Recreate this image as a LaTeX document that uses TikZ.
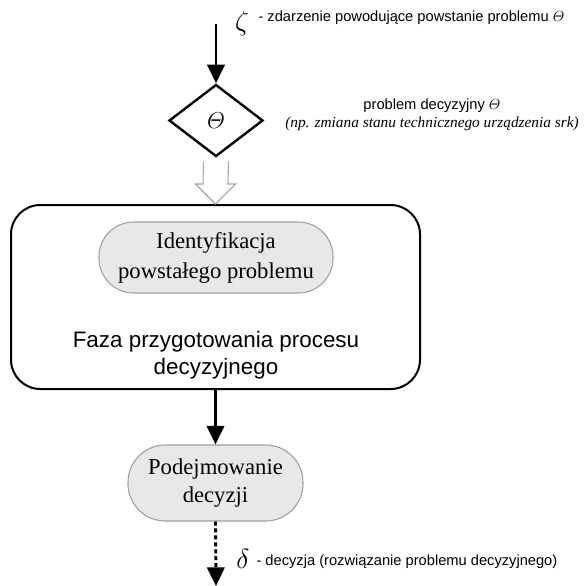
\documentclass[tikz,border=0pt]{standalone}
\usepackage{amsmath}
\usepackage{fontspec}
\setmainfont{Liberation Serif}
\setsansfont{Liberation Sans}
\usetikzlibrary{arrows.meta,shapes.geometric,calc}

\begin{document}
\begin{tikzpicture}[x=0.75pt,y=-0.75pt,thick,
  flow/.style={-{Triangle[length=14pt,width=13pt]},line width=2.2pt},
  dotted flow/.style={flow,dash pattern=on 3pt off 2.2pt},
  hollow/.style={draw=gray!70,line width=0.8pt,line join=miter},
  proc node/.style={draw=gray!75,fill=gray!18,line width=0.8pt,rounded corners=26pt,align=center,inner sep=0pt,font=\fontsize{17}{22.5}\selectfont},
  phase node/.style={draw,line width=1.5pt,rounded corners=22pt,inner sep=0pt,minimum width=306.75pt,minimum height=138pt},
  decision node/.style={diamond,draw,line width=1.8pt,inner sep=0pt,minimum width=70.5pt,minimum height=54pt,font=\fontsize{18}{18}\selectfont},
  note/.style={font=\sffamily\fontsize{11}{13}\selectfont,inner sep=0pt},
  symbol/.style={font=\fontsize{22}{22}\selectfont,inner sep=0pt}]
  \useasboundingbox (0,0) rectangle (586,586);

  \node[decision node] (theta) at (216,120.5) {$\varTheta$};
  \node[phase node] (faza) at (215.5,297) {};
  \node[proc node,minimum width=175.5pt,minimum height=53.25pt] (ident) at (216,257.5) {Identyfikacja\\powstałego problemu};
  \node[align=center,font=\sffamily\fontsize{16.8}{20}\selectfont] (fazatxt) at (216,355) {Faza przygotowania procesu\\decyzyjnego};
  \node[proc node,minimum width=131.25pt,minimum height=57pt,rounded corners=28pt,font=\fontsize{17}{21}\selectfont] (podej) at (215.5,483) {Podejmowanie\\decyzji};

  \coordinate (zstart) at (216,24);
  \coordinate (dend) at (216,586);

  % zdarzenie i problem
  \node[symbol] (zeta) at (242,24) {$\zeta$};
  \node[note,anchor=west] (zetatxt) at (258,18) {- zdarzenie powodujące powstanie problemu $\varTheta$};
  \node[note] (problab) at (432,106) {problem decyzyjny $\varTheta$};
  \node[font=\itshape\fontsize{11.5}{13}\selectfont,inner sep=0pt] (probnote) at (432,124) {(np. zmiana stanu technicznego urządzenia srk)};

  % decyzja
  \node[symbol] (delta) at (243,559) {$\delta$};
  \node[note,anchor=west] (deltatxt) at (256,562) {- decyzja (rozwiązanie problemu decyzyjnego)};

  \draw[flow] (zstart) -- (theta.north);
  \draw[hollow] ($(theta.south)+(-12.5,4)$) -- ($(faza.north)+(-12.5,-20)$) -- ($(faza.north)+(-20,-20)$)
    -- (faza.north) -- ($(faza.north)+(20,-20)$) -- ($(faza.north)+(12.5,-20)$) -- ($(theta.south)+(12.5,4)$);
  \draw[flow] (faza.south) -- (podej.north);
  \draw[dotted flow] (podej.south) -- (dend);
\end{tikzpicture}
\end{document}
